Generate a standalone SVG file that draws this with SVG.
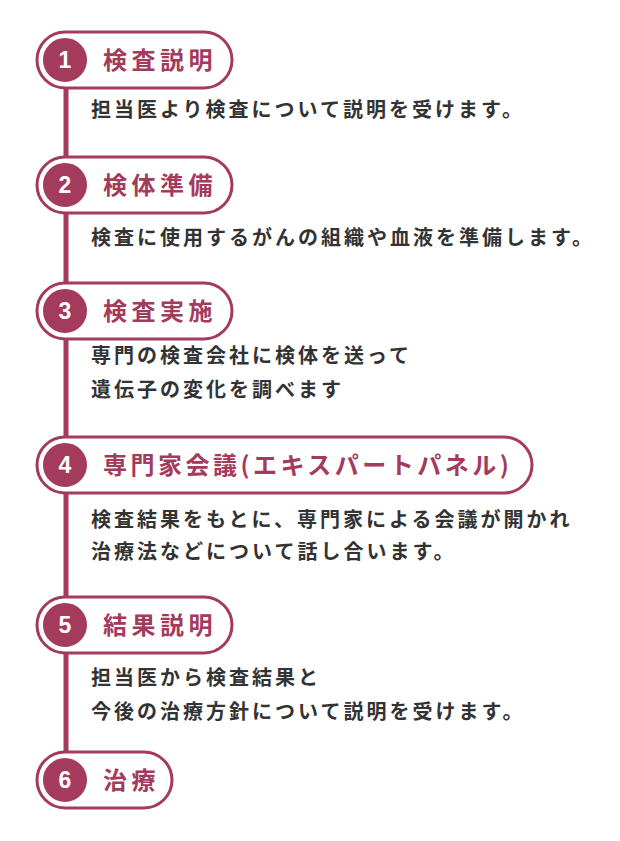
<svg xmlns="http://www.w3.org/2000/svg" width="620" height="841" viewBox="0 0 620 841">
<style>
.pill{fill:#fff;stroke:#a43a5c;stroke-width:3}
.num{fill:#a43a5c;stroke:#fff;stroke-width:2}
.numt{font-family:"Liberation Sans",sans-serif;font-size:23px;font-weight:bold;fill:#fff;text-anchor:middle}
.ttl{font-family:"Noto Sans CJK JP",sans-serif;font-size:24px;font-weight:bold;fill:#a43a5c;letter-spacing:4.5px}
.body{font-family:"Noto Sans CJK JP",sans-serif;font-size:20px;font-weight:bold;fill:#333;letter-spacing:3px}
</style>
<g id="connectors"><line x1="66" y1="80" x2="66" y2="780" stroke="#a43a5c" stroke-width="5"/></g>
<g id="n1"><rect class="pill" x="37" y="32" width="195" height="56" rx="28"/><circle class="num" cx="65" cy="60" r="23"/><text class="numt" x="65" y="68">1</text><text class="ttl" x="103" y="69">検査説明</text><text class="body" x="91" y="117">担当医より検査について説明を受けます。</text></g>
<g id="n2"><rect class="pill" x="37" y="157" width="195" height="56" rx="28"/><circle class="num" cx="65" cy="185" r="23"/><text class="numt" x="65" y="193">2</text><text class="ttl" x="103" y="194">検体準備</text><text class="body" x="91" y="245">検査に使用するがんの組織や血液を準備します。</text></g>
<g id="n3"><rect class="pill" x="37" y="283" width="195" height="56" rx="28"/><circle class="num" cx="65" cy="311" r="23"/><text class="numt" x="65" y="319">3</text><text class="ttl" x="103" y="320">検査実施</text><text class="body" x="91" y="363">専門の検査会社に検体を送って</text><text class="body" x="91" y="397">遺伝子の変化を調べます</text></g>
<g id="n4"><rect class="pill" x="37" y="437" width="495" height="56" rx="28"/><circle class="num" cx="65" cy="465" r="23"/><text class="numt" x="65" y="473">4</text><text class="ttl" x="103" y="474" style="letter-spacing:3.5px">専門家会議(エキスパートパネル)</text><text class="body" x="91" y="527">検査結果をもとに、専門家による会議が開かれ</text><text class="body" x="91" y="559">治療法などについて話し合います。</text></g>
<g id="n5"><rect class="pill" x="37" y="597" width="195" height="56" rx="28"/><circle class="num" cx="65" cy="625" r="23"/><text class="numt" x="65" y="633">5</text><text class="ttl" x="103" y="634">結果説明</text><text class="body" x="91" y="685">担当医から検査結果と</text><text class="body" x="91" y="719">今後の治療方針について説明を受けます。</text></g>
<g id="n6"><rect class="pill" x="37" y="752" width="135" height="56" rx="28"/><circle class="num" cx="65" cy="780" r="23"/><text class="numt" x="65" y="788">6</text><text class="ttl" x="103" y="789">治療</text></g>
</svg>
